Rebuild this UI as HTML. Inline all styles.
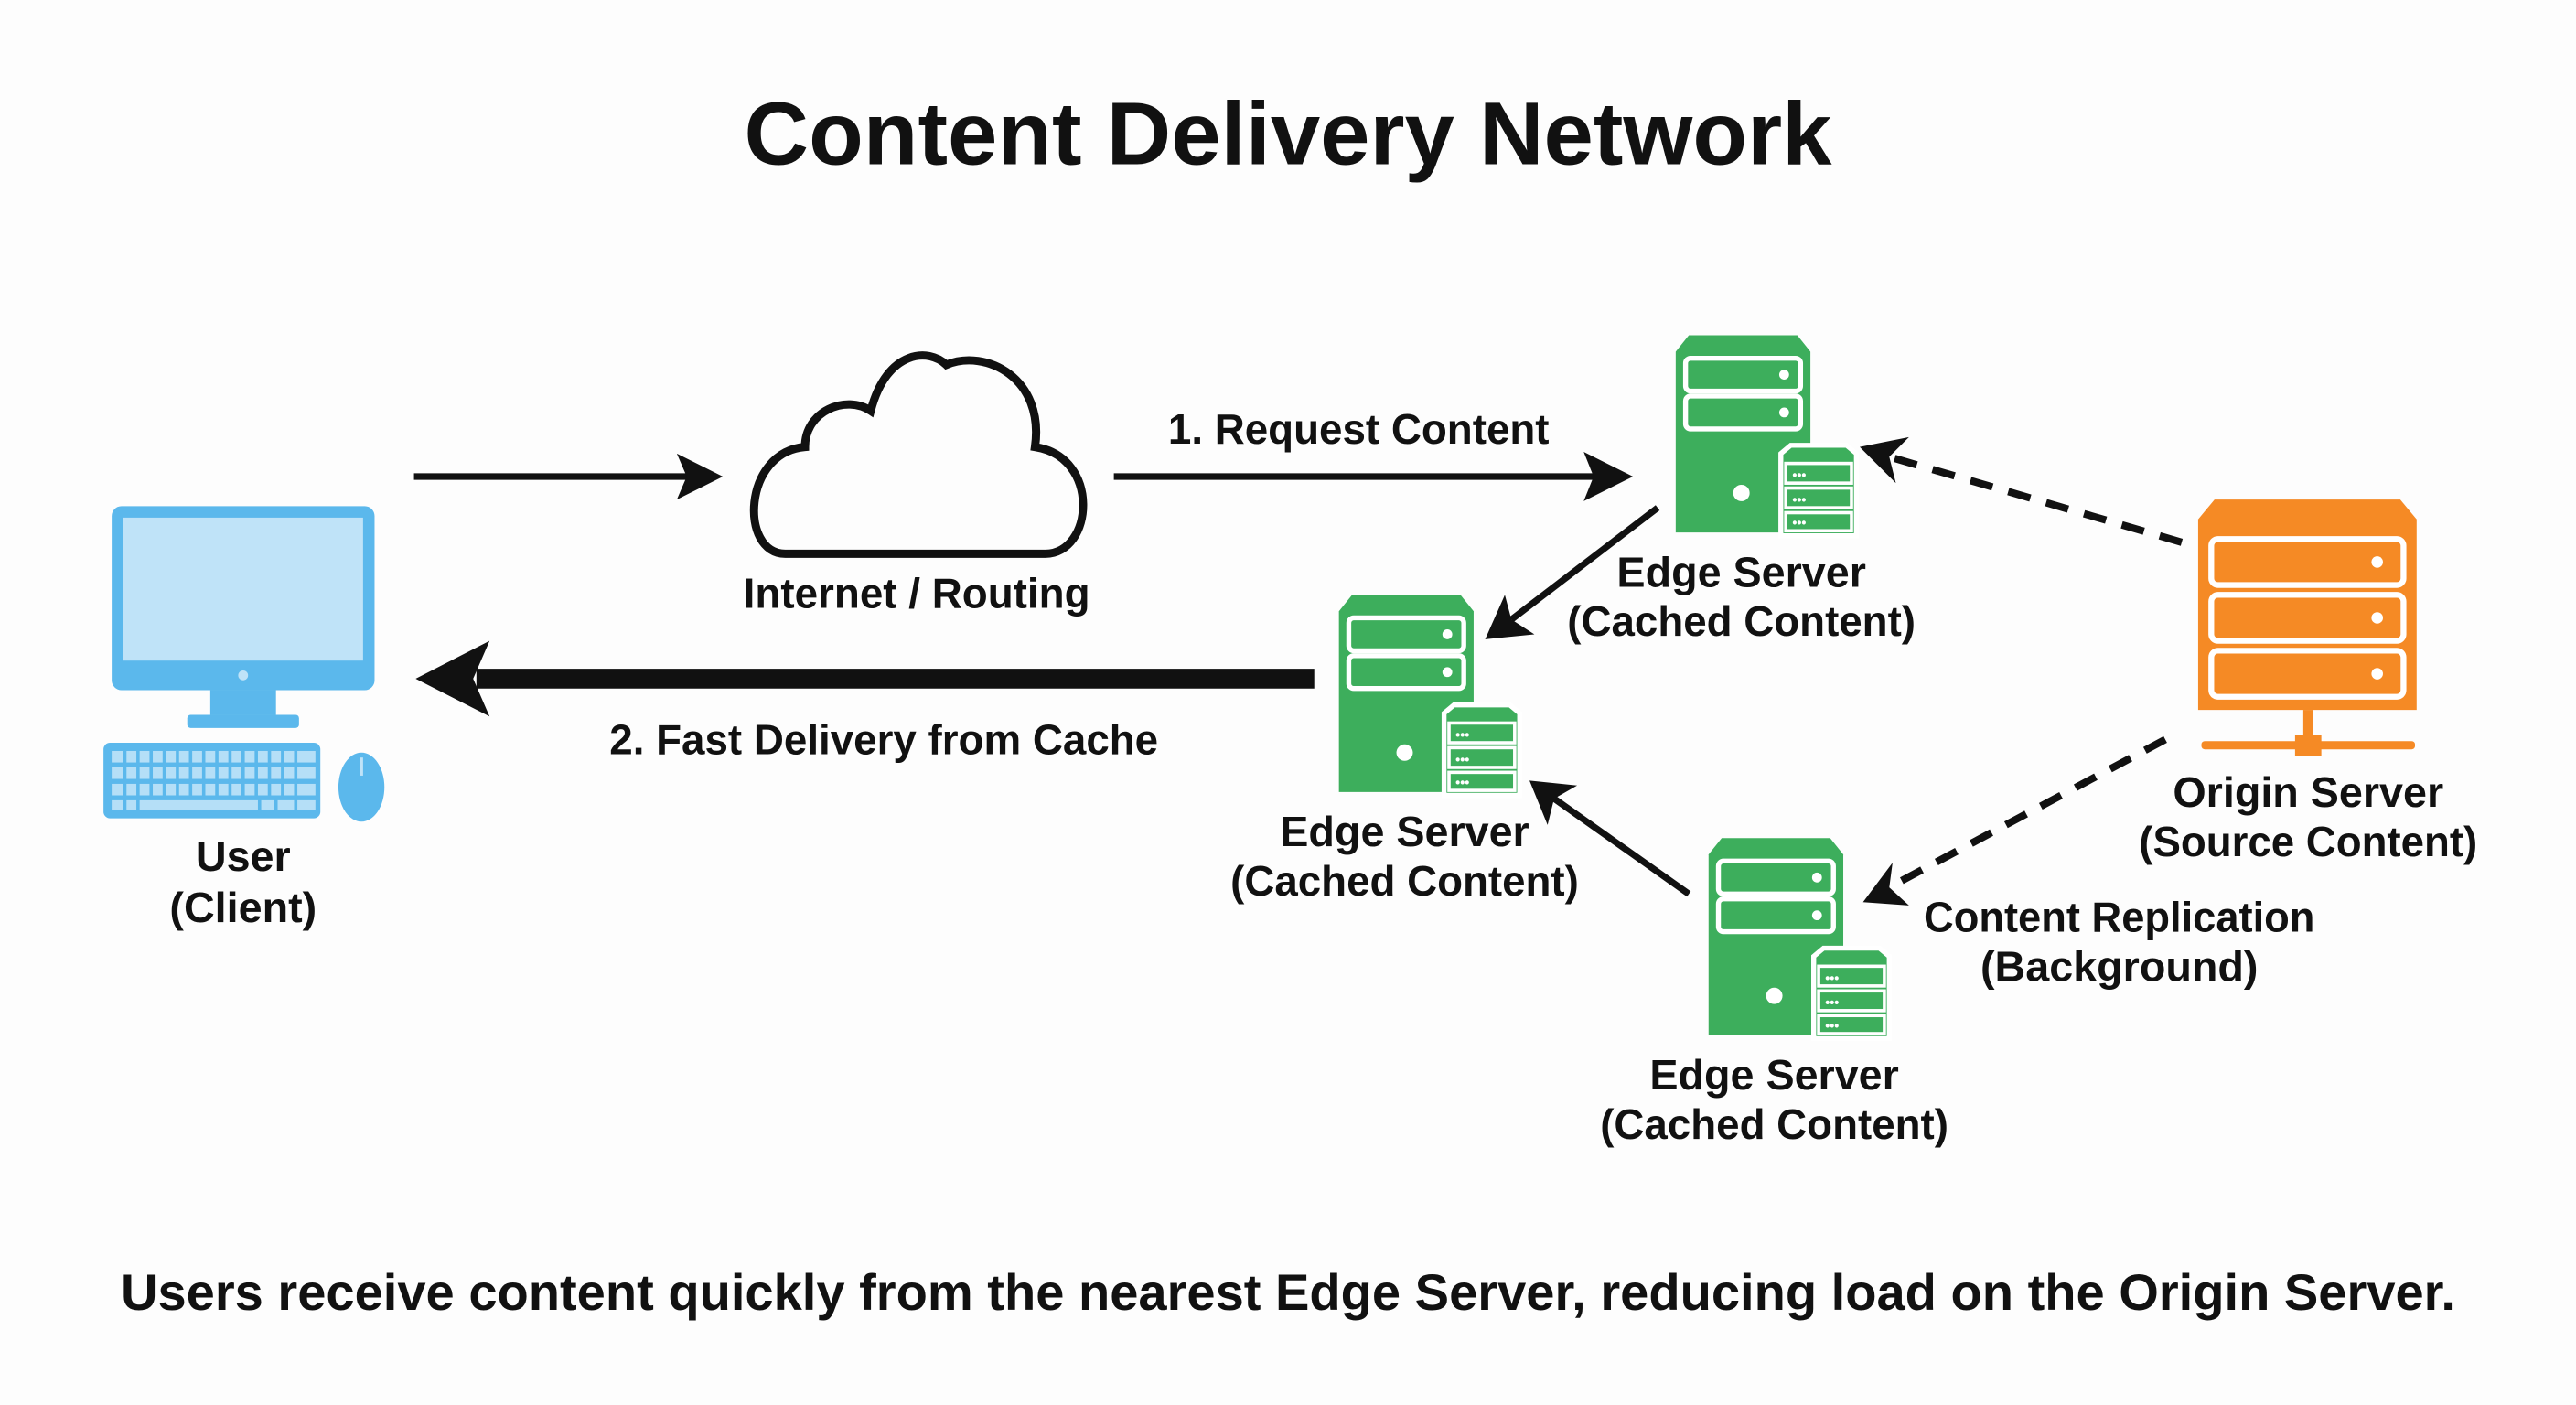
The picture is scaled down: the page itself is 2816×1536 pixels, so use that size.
<!DOCTYPE html>
<html><head><meta charset="utf-8"><style>
html,body{margin:0;padding:0;background:#fdfdfd;}
svg{display:block;}
text{font-family:"Liberation Sans Narrow","Liberation Sans",sans-serif;font-weight:bold;fill:#111;}
</style></head><body>
<svg width="2816" height="1536" viewBox="0 0 1568 855" preserveAspectRatio="none" xmlns="http://www.w3.org/2000/svg">
<defs>
<marker id="ah" markerWidth="10" markerHeight="10" refX="8" refY="5" orient="auto" markerUnits="userSpaceOnUse" viewBox="0 0 10 10">
</marker>
<g id="edge">
  <path d="M8,0 H74 L82,10 V120 H0 V10 Z" fill="#3dae5c"/>
  <rect x="6" y="14" width="70" height="20" rx="3" fill="none" stroke="#fff" stroke-width="3"/>
  <rect x="6" y="37" width="70" height="20" rx="3" fill="none" stroke="#fff" stroke-width="3"/>
  <circle cx="66" cy="24" r="3" fill="#fff"/><circle cx="66" cy="47" r="3" fill="#fff"/>
  <circle cx="40" cy="96" r="5" fill="#fff"/>
  <path d="M64,72 L70,67 H104 L110,72 V122 H64 Z" fill="#3dae5c" stroke="#fff" stroke-width="3"/>
  <rect x="67" y="78" width="40" height="12" fill="none" stroke="#fff" stroke-width="2"/>
  <rect x="67" y="93" width="40" height="12" fill="none" stroke="#fff" stroke-width="2"/>
  <rect x="67" y="108" width="40" height="11" fill="none" stroke="#fff" stroke-width="2"/>
  <text x="71" y="88" style="font-size:8px;fill:#fff">•••</text>
  <text x="71" y="103" style="font-size:8px;fill:#fff">•••</text>
  <text x="71" y="117" style="font-size:8px;fill:#fff">•••</text>
</g>
</defs>

<text x="784" y="100" text-anchor="middle" font-size="54" textLength="662" lengthAdjust="spacingAndGlyphs">Content Delivery Network</text>

<!-- user computer -->
<rect x="68" y="308" width="160" height="112" rx="6" fill="#5bb8ec"/>
<rect x="75" y="315" width="146" height="87" fill="#bfe3f8"/>
<circle cx="148" cy="411" r="3" fill="#bfe3f8"/>
<rect x="128" y="420" width="40" height="15" fill="#5bb8ec"/>
<rect x="114" y="435" width="68" height="8" rx="2" fill="#5bb8ec"/>
<rect x="63" y="452" width="132" height="46" rx="4" fill="#5bb8ec"/>
<g fill="#bfe3f8">
<rect x="68" y="457" width="124" height="7" opacity="0.9"/>
<rect x="68" y="467" width="124" height="7" opacity="0.9"/>
<rect x="68" y="477" width="124" height="7" opacity="0.9"/>
<rect x="68" y="487" width="124" height="6" opacity="0.9"/>
</g>
<g stroke="#5bb8ec" stroke-width="2">
<path d="M76,456V494M84,456V494M92,456V484M100,456V484M108,456V484M116,456V484M124,456V484M132,456V484M140,456V484M148,456V484M156,456V484M164,456V484M172,456V484M180,456V494M158,486V494M168,486V494"/>
</g>
<ellipse cx="220" cy="479" rx="14" ry="21" fill="#5bb8ec"/>
<line x1="220" y1="461" x2="220" y2="472" stroke="#bfe3f8" stroke-width="2"/>
<text x="148" y="530" text-anchor="middle" font-size="26">User</text>
<text x="148" y="561" text-anchor="middle" font-size="26">(Client)</text>

<!-- arrow user->cloud -->
<line x1="252" y1="290" x2="420" y2="290" stroke="#111" stroke-width="4"/>
<path d="M440,290 L412,276 L418,290 L412,304 Z" fill="#111"/>

<!-- cloud -->
<path d="M478,337 H636 C666,337 670,278 630,272 C636,230 600,212 576,222 C566,212 540,212 530,250 C515,240 490,250 490,272 C452,275 450,337 478,337 Z" fill="none" stroke="#111" stroke-width="5"/>
<text x="558" y="370" text-anchor="middle" font-size="26" textLength="211" lengthAdjust="spacingAndGlyphs">Internet / Routing</text>

<!-- request arrow -->
<line x1="678" y1="290" x2="972" y2="290" stroke="#111" stroke-width="4"/>
<path d="M994,290 L964,275 L970,290 L964,305 Z" fill="#111"/>
<text x="827" y="270" text-anchor="middle" font-size="26" textLength="232" lengthAdjust="spacingAndGlyphs">1. Request Content</text>

<!-- edge servers -->
<use href="#edge" x="1020" y="204"/>
<text x="1060" y="357" text-anchor="middle" font-size="26">Edge Server</text>
<text x="1060" y="387" text-anchor="middle" font-size="26" textLength="212" lengthAdjust="spacingAndGlyphs">(Cached Content)</text>

<use href="#edge" x="815" y="362"/>
<text x="855" y="515" text-anchor="middle" font-size="26">Edge Server</text>
<text x="855" y="545" text-anchor="middle" font-size="26" textLength="212" lengthAdjust="spacingAndGlyphs">(Cached Content)</text>

<use href="#edge" x="1040" y="510"/>
<text x="1080" y="663" text-anchor="middle" font-size="26">Edge Server</text>
<text x="1080" y="693" text-anchor="middle" font-size="26" textLength="212" lengthAdjust="spacingAndGlyphs">(Cached Content)</text>

<!-- origin -->
<path d="M1348,304 H1461 L1471,316 V432 H1338 V316 Z" fill="#f58a25"/>
<rect x="1346" y="328" width="117" height="28" rx="4" fill="none" stroke="#fff" stroke-width="3.5"/>
<rect x="1346" y="362" width="117" height="28" rx="4" fill="none" stroke="#fff" stroke-width="3.5"/>
<rect x="1346" y="396" width="117" height="28" rx="4" fill="none" stroke="#fff" stroke-width="3.5"/>
<circle cx="1447" cy="342" r="3.5" fill="#fff"/><circle cx="1447" cy="376" r="3.5" fill="#fff"/><circle cx="1447" cy="410" r="3.5" fill="#fff"/>
<rect x="1402" y="432" width="6" height="20" fill="#f58a25"/>
<rect x="1340" y="451" width="130" height="5" rx="2" fill="#f58a25"/>
<rect x="1397" y="447" width="16" height="13" fill="#f58a25"/>
<text x="1405" y="491" text-anchor="middle" font-size="26">Origin Server</text>
<text x="1405" y="521" text-anchor="middle" font-size="26" textLength="206" lengthAdjust="spacingAndGlyphs">(Source Content)</text>

<!-- fast delivery thick arrow -->
<line x1="800" y1="413" x2="290" y2="413" stroke="#111" stroke-width="12"/>
<path d="M253,413 L298,390 L288,413 L298,436 Z" fill="#111"/>
<text x="538" y="459" text-anchor="middle" font-size="26" textLength="334" lengthAdjust="spacingAndGlyphs">2. Fast Delivery from Cache</text>

<!-- edge1 -> edge2 -->
<line x1="1009" y1="309" x2="920" y2="377" stroke="#111" stroke-width="4"/>
<path d="M904,389 L916,362 L920,377 L934,386 Z" fill="#111"/>
<!-- edge3 -> edge2 -->
<line x1="1028" y1="544" x2="946" y2="486" stroke="#111" stroke-width="4"/>
<path d="M931,475 L960,478 L946,486 L942,502 Z" fill="#111"/>

<!-- dashed origin->edge1 -->
<line x1="1328" y1="330" x2="1150" y2="278" stroke="#111" stroke-width="4.5" stroke-dasharray="14,10"/>
<path d="M1132,272 L1162,266 L1150,278 L1154,294 Z" fill="#111"/>
<!-- dashed origin->edge3 -->
<line x1="1318" y1="450" x2="1150" y2="540" stroke="#111" stroke-width="4.5" stroke-dasharray="14,10"/>
<path d="M1134,549 L1152,525 L1150,540 L1162,551 Z" fill="#111"/>
<text x="1290" y="567" text-anchor="middle" font-size="26" textLength="238" lengthAdjust="spacingAndGlyphs">Content Replication</text>
<text x="1290" y="597" text-anchor="middle" font-size="26">(Background)</text>

<text x="784" y="797" text-anchor="middle" font-size="31" textLength="1421" lengthAdjust="spacingAndGlyphs">Users receive content quickly from the nearest Edge Server, reducing load on the Origin Server.</text>
</svg>
</body></html>
